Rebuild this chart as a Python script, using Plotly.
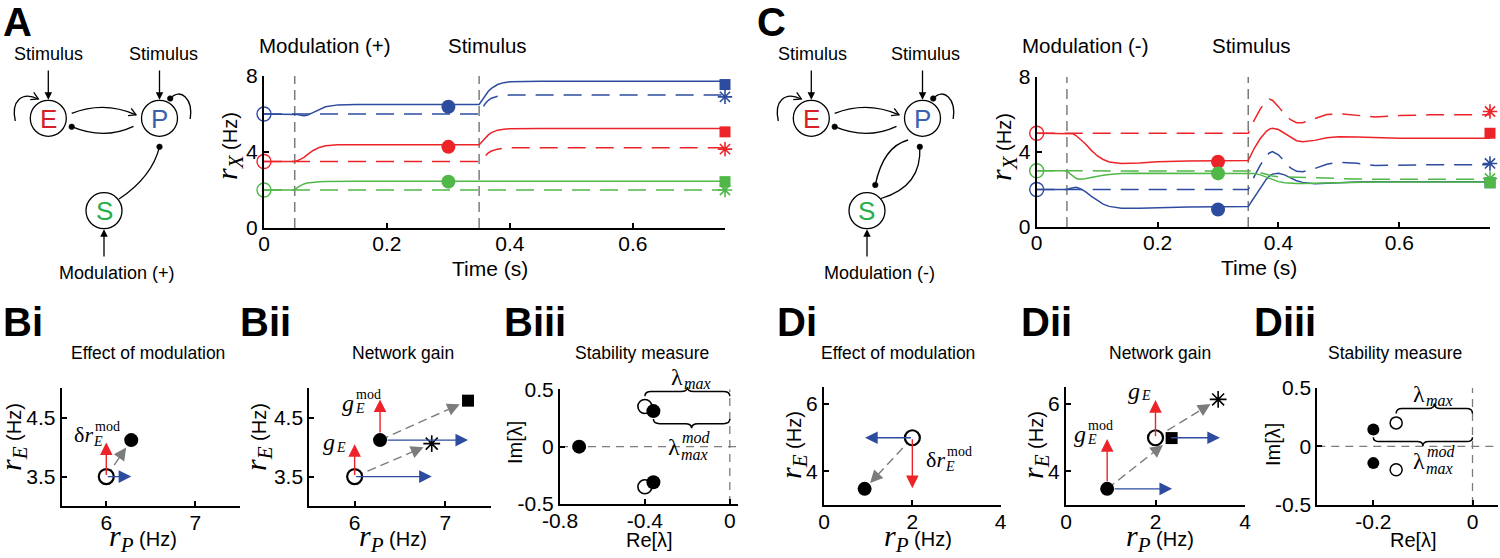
import math
import plotly.graph_objects as go

W, H = 1500, 558

RED = '#EC2429'
BLUE = '#2E4C9F'
GREEN = '#50B748'
GRAY = '#7C7C7C'
E_COL = '#D62027'
P_COL = '#3B62AE'
S_COL = '#27AE4A'
SANS = 'Liberation Sans, Arial, Helvetica, sans-serif'
SERIF = 'Liberation Serif, Times New Roman, serif'

# ================= DATA =================
t_mod_on = 0.05
t_stim_on = 0.35
t_snap = 0.30
t_end = 0.75

# ---- panel A (modulation +) ----
t_A = [0.0, 0.05, 0.055, 0.06, 0.065, 0.07, 0.08, 0.09, 0.10, 0.12, 0.15, 0.35,
       0.355, 0.36, 0.365, 0.37, 0.38, 0.39, 0.40, 0.45, 0.75]
rE_mod_A = [3.5, 3.5, 3.55, 3.62, 3.72, 3.85, 4.08, 4.24, 4.33, 4.38, 4.38, 4.38,
            4.55, 4.75, 4.90, 5.02, 5.15, 5.20, 5.23, 5.24, 5.24]
rE_ctl_A = [3.5, 3.5, 3.5, 3.5, 3.5, 3.5, 3.5, 3.5, 3.5, 3.5, 3.5, 3.5,
            3.65, 3.82, 3.95, 4.05, 4.15, 4.20, 4.22, 4.22, 4.22]
rP_mod_A = [6.0, 6.0, 5.97, 5.93, 5.91, 5.93, 6.08, 6.25, 6.38, 6.48, 6.50, 6.50,
            6.75, 7.00, 7.20, 7.35, 7.55, 7.65, 7.70, 7.72, 7.72]
rP_ctl_A = [6.0, 6.0, 6.0, 6.0, 6.0, 6.0, 6.0, 6.0, 6.0, 6.0, 6.0, 6.0,
            6.30, 6.55, 6.72, 6.83, 6.93, 6.97, 7.00, 7.00, 7.00]
rS_mod_A = [2.0, 2.0, 2.15, 2.25, 2.32, 2.37, 2.42, 2.44, 2.45, 2.46, 2.46, 2.46,
            2.46, 2.46, 2.46, 2.46, 2.46, 2.46, 2.46, 2.46, 2.46]
rS_ctl_A = [2.0, 2.0, 2.0, 2.0, 2.0, 2.0, 2.0, 2.0, 2.0, 2.0, 2.0, 2.0,
            2.0, 2.0, 2.0, 2.0, 2.0, 2.0, 2.0, 2.0, 2.0]
# markers, order E, P, S
open_A = [3.5, 6.0, 2.0]
fill_A = [4.27, 6.38, 2.44]
square_A = [5.06, 7.55, 2.44]
star_A = [4.15, 6.90, 2.00]

# ---- panel C (modulation -) ----
t_C = [0.0, 0.05, 0.055, 0.06, 0.065, 0.07, 0.08, 0.09, 0.10, 0.11, 0.12, 0.14, 0.17,
       0.20, 0.25, 0.35, 0.355, 0.36, 0.37, 0.38, 0.385, 0.39, 0.40, 0.41, 0.42, 0.43,
       0.44, 0.46, 0.48, 0.50, 0.53, 0.56, 0.60, 0.65, 0.75]
rE_mod_C = [5.0, 5.0, 5.0, 4.97, 4.88, 4.75, 4.45, 4.10, 3.80, 3.60, 3.47, 3.39, 3.41,
            3.48, 3.52, 3.55, 3.90, 4.20, 4.72, 5.10, 5.22, 5.27, 5.20, 5.00, 4.76, 4.60,
            4.55, 4.62, 4.76, 4.82, 4.80, 4.76, 4.73, 4.73, 4.73]
rE_ctl_C = [5.0, 5.0, 5.0, 5.0, 5.0, 5.0, 5.0, 5.0, 5.0, 5.0, 5.0, 5.0, 5.0,
            5.0, 5.0, 5.0, 5.35, 5.70, 6.30, 6.72, 6.82, 6.76, 6.42, 6.02, 5.72, 5.56,
            5.56, 5.80, 6.00, 6.04, 5.95, 5.87, 5.94, 5.98, 5.98]
rP_mod_C = [2.0, 2.0, 2.05, 2.10, 2.12, 2.07, 1.90, 1.65, 1.42, 1.22, 1.10, 1.00, 1.00,
            1.04, 1.07, 1.10, 1.35, 1.60, 2.10, 2.55, 2.72, 2.82, 2.86, 2.78, 2.62, 2.47,
            2.38, 2.31, 2.34, 2.38, 2.40, 2.41, 2.41, 2.41, 2.41]
rP_ctl_C = [2.0, 2.0, 2.0, 2.0, 2.0, 2.0, 2.0, 2.0, 2.0, 2.0, 2.0, 2.0, 2.0,
            2.0, 2.0, 2.0, 2.30, 2.70, 3.30, 3.80, 3.95, 4.02, 3.85, 3.50, 3.15, 2.97,
            2.95, 3.12, 3.35, 3.45, 3.40, 3.28, 3.30, 3.32, 3.32]
rS_mod_C = [3.0, 3.0, 2.85, 2.70, 2.60, 2.55, 2.57, 2.64, 2.71, 2.76, 2.80, 2.85, 2.87,
            2.87, 2.87, 2.87, 2.86, 2.85, 2.78, 2.65, 2.58, 2.52, 2.42, 2.36, 2.33, 2.32,
            2.32, 2.34, 2.36, 2.38, 2.39, 2.40, 2.40, 2.40, 2.40]
rS_ctl_C = [3.0, 3.0, 3.0, 3.0, 3.0, 3.0, 3.0, 3.0, 3.0, 3.0, 3.0, 3.0, 3.0,
            3.0, 3.0, 3.0, 3.00, 2.98, 2.90, 2.80, 2.76, 2.72, 2.68, 2.67, 2.67, 2.67,
            2.66, 2.63, 2.60, 2.57, 2.56, 2.55, 2.55, 2.55, 2.55]
open_C = [5.0, 2.0, 3.0]
fill_C = [3.48, 0.93, 2.86]
square_C = [5.0, 2.36, 2.36]
star_C = [6.16, 3.39, 2.59]

# ---- panels B (rP, rE) ----
rest_B = [6.0, 3.5]
mod_B = [6.28, 4.12]
dmod_B = [0.28, 0.58]          # Bi: blue (rP) and red (rE) arrows
gain_B = [0.85, 0.55]          # Bii: from rest
gain_mod_B = [0.97, 0.69]      # Bii: from modulated state
star_B = [6.85, 4.06]
square_B = [7.25, 4.79]
eig_ctl_B_re = [-0.40, -0.40]
eig_ctl_B_im = [0.35, -0.35]
eig_mod_B_re = [-0.71, -0.36, -0.36]
eig_mod_B_im = [0.0, 0.31, -0.31]

# ---- panels D ----
rest_D = [2.0, 5.0]
mod_D = [0.92, 3.48]
dmod_D = [-1.07, -1.5]
gain_D = [1.44, 1.12]
gain_mod_D = [1.45, 1.48]
star_D = [3.40, 6.14]
square_D = [2.36, 4.99]
eig_ctl_D_re = [-0.154, -0.154]
eig_ctl_D_im = [0.20, -0.20]
eig_mod_D_re = [-0.20, -0.20]
eig_mod_D_im = [0.143, -0.143]

# ================= LAYOUT GEOMETRY (pixels) =================
AX = {
    'A':    dict(n='',  px=(264.0, 725.0),   py=(228.0, 76.0),  xr=(0, 0.75),      yr=(0, 8),
                 xt=[0, 0.2, 0.4, 0.6], xtt=['0', '0.2', '0.4', '0.6'], yt=[0, 4, 8], ytt=['0', '4', '8']),
    'C':    dict(n='2', px=(1036.7, 1490.0), py=(227.0, 77.0),  xr=(0, 0.75),      yr=(0, 8),
                 xt=[0, 0.2, 0.4, 0.6], xtt=['0', '0.2', '0.4', '0.6'], yt=[0, 4, 8], ytt=['0', '4', '8']),
    'Bi':   dict(n='3', px=(61.7, 240.0),    py=(506.0, 388.3), xr=(5.5, 7.5),     yr=(3, 5),
                 xt=[6, 7], xtt=['6', '7'], yt=[3.5, 4.5], ytt=['3.5', '4.5']),
    'Bii':  dict(n='4', px=(309.3, 490.7),   py=(506.0, 388.3), xr=(5.5, 7.5),     yr=(3, 5),
                 xt=[6, 7], xtt=['6', '7'], yt=[3.5, 4.5], ytt=['3.5', '4.5']),
    'Biii': dict(n='5', px=(560.0, 738.3),   py=(504.0, 389.3), xr=(-0.8, 0.04),   yr=(-0.5, 0.5),
                 xt=[-0.8, -0.4, 0], xtt=['-0.8', '-0.4', '0'], yt=[-0.5, 0, 0.5], ytt=['-0.5', '0', '0.5']),
    'Di':   dict(n='6', px=(824.0, 1000.7),  py=(505.0, 387.3), xr=(0, 4),         yr=(3, 6.5),
                 xt=[0, 2, 4], xtt=['0', '2', '4'], yt=[4, 6], ytt=['4', '6']),
    'Dii':  dict(n='7', px=(1066.0, 1245.0), py=(505.0, 387.3), xr=(0, 4),         yr=(3, 6.5),
                 xt=[0, 2, 4], xtt=['0', '2', '4'], yt=[4, 6], ytt=['4', '6']),
    'Diii': dict(n='8', px=(1317.3, 1498.3), py=(505.0, 387.7), xr=(-0.313, 0.052), yr=(-0.5, 0.5),
                 xt=[-0.2, 0], xtt=['-0.2', '0'], yt=[-0.5, 0, 0.5], ytt=['-0.5', '0', '0.5']),
}

fig = go.Figure()
ann = []
shapes = []


def ref(k):
    n = AX[k]['n']
    return 'x' + n, 'y' + n


def d2p(k, x, y):
    a = AX[k]
    X = a['px'][0] + (x - a['xr'][0]) / (a['xr'][1] - a['xr'][0]) * (a['px'][1] - a['px'][0])
    Y = a['py'][0] - (y - a['yr'][0]) / (a['yr'][1] - a['yr'][0]) * (a['py'][0] - a['py'][1])
    return X, Y


def p2d(k, X, Y):
    a = AX[k]
    x = a['xr'][0] + (X - a['px'][0]) / (a['px'][1] - a['px'][0]) * (a['xr'][1] - a['xr'][0])
    y = a['yr'][0] + (a['py'][0] - Y) / (a['py'][0] - a['py'][1]) * (a['yr'][1] - a['yr'][0])
    return x, y


def add(k, **kw):
    xr, yr = ref(k)
    fig.add_trace(go.Scatter(xaxis=xr, yaxis=yr, showlegend=False, hoverinfo='skip', **kw))


for k, a in AX.items():
    n = a['n']
    common = dict(showline=True, linecolor='black', linewidth=2, ticks='inside', ticklen=5,
                  tickwidth=2, tickcolor='black', showgrid=False, zeroline=False, fixedrange=True,
                  automargin=False, tickfont=dict(family=SANS, size=21, color='black'))
    xextra = dict(ticklabelstandoff=-4) if k in ('A', 'C') else dict(ticklabelstandoff=-3)
    fig.update_layout({
        'xaxis' + n: dict(common, domain=[a['px'][0] / W, a['px'][1] / W], range=list(a['xr']),
                          anchor='y' + n, tickmode='array', tickvals=a['xt'], ticktext=a['xtt'], **xextra),
        'yaxis' + n: dict(common, domain=[1 - a['py'][0] / H, 1 - a['py'][1] / H], range=list(a['yr']),
                          anchor='x' + n, tickmode='array', tickvals=a['yt'], ticktext=a['ytt']),
    })


# ---------- helpers for text / arrows ----------
def label(X, Y, text, size=18, family=SANS, color='black', angle=0, xanchor='center', yanchor='middle'):
    ann.append(dict(xref='paper', yref='paper', x=X / W, y=1 - Y / H, text=text, showarrow=False,
                    font=dict(family=family, size=size, color=color), textangle=angle,
                    xanchor=xanchor, yanchor=yanchor))


def mlabel(k, x, y, base, sub=None, sup=None, bsize=22, ssize=14, sup_dy=8, sub_dy=-7, sub_dx=-3, sup_dx=-2):
    X, Y = d2p(k, x, y)
    c = dict(xref='paper', yref='paper', x=X / W, y=1 - Y / H, showarrow=False, yanchor='middle')
    ann.append(dict(c, text=base, xanchor='right', font=dict(family=SERIF, size=bsize, color='black')))
    if sup:
        ann.append(dict(c, text=sup, xanchor='left', yshift=sup_dy, xshift=sup_dx,
                        font=dict(family=SERIF, size=ssize, color='black')))
    if sub:
        ann.append(dict(c, text=sub, xanchor='left', yshift=sub_dy, xshift=sub_dx,
                        font=dict(family=SERIF, size=ssize, color='black')))


def arrow(k, x0, y0, x1, y1, col, w=1.4, s=1.8, sso=0):
    xr, yr = ref(k)
    ann.append(dict(xref=xr, yref=yr, axref=xr, ayref=yr, x=x1, y=y1, ax=x0, ay=y0, text='',
                    showarrow=True, arrowhead=2, arrowsize=s, arrowwidth=w, arrowcolor=col,
                    startstandoff=sso, standoff=0))


def dashed_arrow(k, x0, y0, x1, y1, gap=9.0, start_gap=0.0):
    X0, Y0 = d2p(k, x0, y0)
    X1, Y1 = d2p(k, x1, y1)
    L = math.hypot(X1 - X0, Y1 - Y0)
    ux, uy = (X1 - X0) / L, (Y1 - Y0) / L
    TX, TY = X1 - gap * ux, Y1 - gap * uy
    BX, BY = TX - 11 * ux, TY - 11 * uy
    SX, SY = X0 + start_gap * ux, Y0 + start_gap * uy
    tx, ty = p2d(k, TX, TY)
    bx, by = p2d(k, BX, BY)
    sx, sy = p2d(k, SX, SY)
    add(k, x=[sx, bx], y=[sy, by], mode='lines', line=dict(color=GRAY, width=1.4, dash='9px,5px'))
    arrow(k, bx, by, tx, ty, GRAY)


def pp(X, Y):
    return f"{X / W:.6f},{1 - Y / H:.6f}"


def brace(k, x1, x2, y0, h, q):
    xm = (x1 + x2) / 2
    ym = y0 + h / 2
    yt = y0 + h
    P = lambda x, y: pp(*d2p(k, x, y))
    d = (f"M {P(x1, y0)} Q {P(x1, ym)} {P(x1 + q, ym)} L {P(xm - q, ym)} Q {P(xm, ym)} {P(xm, yt)} "
         f"Q {P(xm, ym)} {P(xm + q, ym)} L {P(x2 - q, ym)} Q {P(x2, ym)} {P(x2, y0)}")
    shapes.append(dict(type='path', xref='paper', yref='paper', path=d, line=dict(color='black', width=1.5)))


def pshape(d, width=1.3):
    shapes.append(dict(type='path', xref='paper', yref='paper', path=d,
                       line=dict(color='black', width=width)))


def pcircle(cx, cy, r, fill='rgba(0,0,0,0)', width=1.3):
    shapes.append(dict(type='circle', xref='paper', yref='paper', x0=(cx - r) / W, x1=(cx + r) / W,
                       y0=1 - (cy + r) / H, y1=1 - (cy - r) / H,
                       line=dict(color='black', width=width), fillcolor=fill))


def chevron(tip, frm, L=7.0, w=4.0):
    dx, dy = tip[0] - frm[0], tip[1] - frm[1]
    n = math.hypot(dx, dy)
    ux, uy = dx / n, dy / n
    bx, by = tip[0] - L * ux, tip[1] - L * uy
    a1 = (bx - w * uy, by + w * ux)
    a2 = (bx + w * uy, by - w * ux)
    pshape(f"M {pp(*a1)} L {pp(*tip)} L {pp(*a2)}")


def parrow(X0, Y0, X1, Y1, w=1.3, s=1.15):
    ann.append(dict(xref='paper', yref='paper', x=X1 / W, y=1 - Y1 / H, ax=X0 - X1, ay=Y0 - Y1,
                    axref='pixel', ayref='pixel', text='', showarrow=True, arrowhead=2,
                    arrowsize=s, arrowwidth=w, arrowcolor='black'))


# ================= TIME SERIES =================
def timeseries(k, t, series, marks):
    ymax = AX[k]['yr'][1]
    for te in (t_mod_on, t_stim_on):
        add(k, x=[te, te], y=[0, ymax], mode='lines', line=dict(color=GRAY, width=1.5, dash='10px,6px'))
    cols = [RED, BLUE, GREEN]
    for (mod, ctl), col in zip(series, cols):
        add(k, x=t, y=ctl, mode='lines', line=dict(color=col, width=1.5, dash='18px,10px'))
        add(k, x=t, y=mod, mode='lines', line=dict(color=col, width=1.5))
    op, fi, sq, st = marks
    for i, col in enumerate(cols):
        add(k, x=[0.0], y=[op[i]], mode='markers', cliponaxis=False,
            marker=dict(symbol='circle-open', size=14, color=col, line=dict(width=1.4, color=col)))
        add(k, x=[t_snap], y=[fi[i]], mode='markers', cliponaxis=False,
            marker=dict(symbol='circle', size=14, color=col, line=dict(width=0)))
        add(k, x=[t_end], y=[st[i]], mode='markers', cliponaxis=False,
            marker=dict(symbol='asterisk-open', size=12, color=col, line=dict(width=1.6, color=col)))
        add(k, x=[t_end], y=[sq[i]], mode='markers', cliponaxis=False,
            marker=dict(symbol='square', size=11, color=col, line=dict(width=0)))


timeseries('A', t_A, [(rE_mod_A, rE_ctl_A), (rP_mod_A, rP_ctl_A), (rS_mod_A, rS_ctl_A)],
           (open_A, fill_A, square_A, star_A))
timeseries('C', t_C, [(rE_mod_C, rE_ctl_C), (rP_mod_C, rP_ctl_C), (rS_mod_C, rS_ctl_C)],
           (open_C, fill_C, square_C, star_C))

rx_lbl = (f"<span style='font-family:Liberation Serif;font-size:30px'><i>r</i>"
          f"<sub><i>X</i></sub></span> (Hz)")
label(229, 146, rx_lbl, size=20, angle=-90)
label(1003, 147, rx_lbl, size=20, angle=-90)
label(490, 268, 'Time (s)', size=21)
label(1259, 267, 'Time (s)', size=21)
label(325.3, 45.5, 'Modulation (+)', size=20.5)
label(487, 45.5, 'Stimulus', size=20.5)
label(1084.7, 45.5, 'Modulation (-)', size=20.5)
label(1251.7, 45.5, 'Stimulus', size=20.5)


# ================= DIAGRAMS =================
def diagram(dx, sign):
    E = (48.3 + dx, 118.3)
    P = (159.5 + dx, 118.3)
    S = (104.0 + dx, 210.7)
    R = 18.0
    for c, lab, col in [(E, 'E', E_COL), (P, 'P', P_COL), (S, 'S', S_COL)]:
        pcircle(c[0], c[1], R, fill='white')
        label(c[0], c[1] + 0.5, lab, size=26, color=col)
    label(E[0] + 0.7, 54, 'Stimulus', size=18)
    label(P[0] + 3.5, 54, 'Stimulus', size=18)
    parrow(E[0], 69, E[0], E[1] - R - 0.5)
    parrow(P[0], 69, P[0], P[1] - R - 0.5)
    parrow(S[0], 258, S[0], S[1] + R + 0.5)
    label(S[0] + 12.7, 273.3, 'Modulation (+)' if sign > 0 else 'Modulation (-)', size=18)
    # E -> P (excitatory)
    a0 = (E[0] + 23.4, 113.3)
    ctl = (104.0 + dx, 100.6)
    a1 = (P[0] - 23.5, 114.8)
    pshape(f"M {pp(*a0)} Q {pp(*ctl)} {pp(*a1)}")
    chevron(a1, ctl)
    # P -> E (inhibitory)
    b0 = (P[0] - 26.0, 126.3)
    bc = (104.0 + dx, 140.3)
    b1 = (E[0] + 23.4, 126.7)
    pshape(f"M {pp(*b0)} Q {pp(*bc)} {pp(*b1)}")
    pcircle(b1[0], b1[1], 2.8, fill='black', width=0.5)
    # E self loop (excitatory)
    e0 = (E[0] - 33.0, 121.0)
    ec1 = (E[0] - 37.5, 101.0)
    ec2 = (E[0] - 26.5, 91.0)
    e1 = (E[0] - 10.0, 99.0)
    pshape(f"M {pp(*e0)} C {pp(*ec1)} {pp(*ec2)} {pp(*e1)}")
    chevron(e1, ec2)
    # P self loop (inhibitory)
    f0 = (P[0] + 10.7, 98.5)
    pshape(f"M {pp(*f0)} C {pp(P[0] + 21, 87.0)} {pp(P[0] + 34, 99.0)} {pp(P[0] + 30.7, 119.0)}")
    pcircle(f0[0], f0[1], 2.8, fill='black', width=0.5)
    if sign > 0:
        s0 = (S[0] + 15.0, 199.0)
        s1 = (P[0], 146.8)
        pshape(f"M {pp(*s0)} Q {pp(S[0] + 48.0, 177.0)} {pp(*s1)}")
        pcircle(s1[0], s1[1], 2.8, fill='black', width=0.5)
    else:
        s0 = (S[0] + 14.0, 198.5)
        s1 = (P[0] - 2.7, 146.8)
        pshape(f"M {pp(*s0)} Q {pp(S[0] + 55.0, 186.7)} {pp(*s1)}")
        pcircle(s1[0], s1[1], 2.8, fill='black', width=0.5)
        q0 = (P[0] - 14.4, 140.0)
        q1 = (S[0] + 8.3, 185.0)
        pshape(f"M {pp(*q0)} Q {pp(P[0] - 39.4, 146.7)} {pp(*q1)}")
        pcircle(q1[0], q1[1], 2.8, fill='black', width=0.5)


diagram(0.0, +1)
diagram(763.0, -1)

# panel letters
for X, Y, t in [(17, 22, 'A'), (771, 22, 'C'), (22.5, 322, 'Bi'), (265.5, 322, 'Bii'),
                (535, 322, 'Biii'), (797.5, 322, 'Di'), (1046, 322, 'Dii'), (1285, 322, 'Diii')]:
    label(X, Y, f'<b>{t}</b>', size=40)

# bottom titles & axis labels
for X, t in [(148, 'Effect of modulation'), (403, 'Network gain'), (642, 'Stability measure'),
             (898, 'Effect of modulation'), (1160, 'Network gain'), (1395, 'Stability measure')]:
    label(X, 353, t, size=17.5)

rp_lbl = (f"<span style='font-family:Liberation Serif;font-size:30px'><i>r</i>"
          f"<sub><i>P</i></sub></span> (Hz)")
re_lbl = (f"<span style='font-family:Liberation Serif;font-size:30px'><i>r</i>"
          f"<sub><i>E</i></sub></span> (Hz)")
for X in (143, 393, 918, 1160):
    label(X, 538, rp_lbl, size=20)
for X, Y in ((13, 437), (258, 437), (793, 445), (1035, 445)):
    label(X, Y, re_lbl, size=20, angle=-90)
label(515, 443, 'Im[λ]', size=20, angle=-90)
label(1273, 445, 'Im[λ]', size=20, angle=-90)
label(649, 540, 'Re[λ]', size=20)
label(1413, 540, 'Re[λ]', size=20)

BLK = 'black'


def open_pt(k, xs, ys, size=15, lw=2.2):
    add(k, x=xs, y=ys, mode='markers', cliponaxis=False,
        marker=dict(symbol='circle', size=size, color='white', line=dict(width=lw, color=BLK)))


def fill_pt(k, xs, ys, size=14):
    add(k, x=xs, y=ys, mode='markers', cliponaxis=False,
        marker=dict(symbol='circle', size=size, color=BLK, line=dict(width=0)))


# ---------- Bi ----------
dashed_arrow('Bi', rest_B[0], rest_B[1], mod_B[0], mod_B[1])
open_pt('Bi', [rest_B[0]], [rest_B[1]])
fill_pt('Bi', [mod_B[0]], [mod_B[1]])
arrow('Bi', rest_B[0], rest_B[1], rest_B[0], rest_B[1] + dmod_B[1], RED)
arrow('Bi', rest_B[0], rest_B[1], rest_B[0] + dmod_B[0], rest_B[1], BLUE)
mlabel('Bi', 5.87, 4.21, 'δ<i>r</i>', sub='<i>E</i>', sup='mod', sub_dx=-4)

# ---------- Bii ----------
dashed_arrow('Bii', rest_B[0], rest_B[1], star_B[0], star_B[1])
dashed_arrow('Bii', mod_B[0], mod_B[1], square_B[0], square_B[1])
open_pt('Bii', [rest_B[0]], [rest_B[1]])
fill_pt('Bii', [mod_B[0]], [mod_B[1]])
add('Bii', x=[square_B[0]], y=[square_B[1]], mode='markers', cliponaxis=False,
    marker=dict(symbol='square', size=12, color=BLK))
add('Bii', x=[star_B[0]], y=[star_B[1]], mode='markers', cliponaxis=False,
    marker=dict(symbol='asterisk-open', size=14, color=BLK, line=dict(width=1.6, color=BLK)))
arrow('Bii', rest_B[0], rest_B[1], rest_B[0], rest_B[1] + gain_B[1], RED)
arrow('Bii', rest_B[0], rest_B[1], rest_B[0] + gain_B[0], rest_B[1], BLUE)
arrow('Bii', mod_B[0], mod_B[1], mod_B[0], mod_B[1] + gain_mod_B[1], RED, sso=6)
arrow('Bii', mod_B[0], mod_B[1], mod_B[0] + gain_mod_B[0], mod_B[1], BLUE, sso=6)
mlabel('Bii', 5.80, 4.08, '<i>g</i>', sub='<i>E</i>', sub_dy=-5, bsize=24)
mlabel('Bii', 6.01, 4.75, '<i>g</i>', sub='<i>E</i>', sup='mod', sub_dy=-5, sup_dy=9, bsize=24)

# ---------- Biii ----------
add('Biii', x=[AX['Biii']['xr'][0], AX['Biii']['xr'][1]], y=[0, 0], mode='lines',
    line=dict(color=GRAY, width=1.3, dash='8px,6px'))
add('Biii', x=[0, 0], y=[-0.5, 0.5], mode='lines', line=dict(color=GRAY, width=1.3, dash='8px,6px'))
open_pt('Biii', eig_ctl_B_re, eig_ctl_B_im, size=14, lw=1.6)
fill_pt('Biii', eig_mod_B_re, eig_mod_B_im, size=14)
brace('Biii', eig_ctl_B_re[0], 0.0, 0.44, 0.08, 0.03)
brace('Biii', eig_mod_B_re[1], 0.0, 0.24, -0.08, 0.03)
mlabel('Biii', -0.211, 0.606, 'λ', sub='<i>max</i>', bsize=24, ssize=16, sub_dy=-6)
mlabel('Biii', -0.227, -0.003, 'λ', sub='<i>max</i>', sup='<i>mod</i>', bsize=24, ssize=16,
       sub_dy=-8, sup_dy=9)

# ---------- Di ----------
dashed_arrow('Di', rest_D[0], rest_D[1], mod_D[0], mod_D[1], gap=8)
open_pt('Di', [rest_D[0]], [rest_D[1]])
fill_pt('Di', [mod_D[0]], [mod_D[1]])
arrow('Di', rest_D[0], rest_D[1], rest_D[0], rest_D[1] + dmod_D[1], RED)
arrow('Di', rest_D[0], rest_D[1], rest_D[0] + dmod_D[0], rest_D[1], BLUE)
mlabel('Di', 2.78, 4.34, 'δ<i>r</i>', sub='<i>E</i>', sup='mod', sub_dx=-4)

# ---------- Dii ----------
dashed_arrow('Dii', mod_D[0], mod_D[1], square_D[0], square_D[1], gap=11)
dashed_arrow('Dii', rest_D[0], rest_D[1], star_D[0], star_D[1], gap=9)
open_pt('Dii', [rest_D[0]], [rest_D[1]])
fill_pt('Dii', [mod_D[0]], [mod_D[1]])
add('Dii', x=[square_D[0]], y=[square_D[1]], mode='markers', cliponaxis=False,
    marker=dict(symbol='square', size=12, color=BLK))
add('Dii', x=[star_D[0]], y=[star_D[1]], mode='markers', cliponaxis=False,
    marker=dict(symbol='asterisk-open', size=14, color=BLK, line=dict(width=1.6, color=BLK)))
arrow('Dii', rest_D[0], rest_D[1], rest_D[0], rest_D[1] + gain_D[1], RED)
arrow('Dii', rest_D[0], rest_D[1], rest_D[0] + gain_D[0], rest_D[1], BLUE, sso=14)
arrow('Dii', mod_D[0], mod_D[1], mod_D[0], mod_D[1] + gain_mod_D[1], RED, sso=6)
arrow('Dii', mod_D[0], mod_D[1], mod_D[0] + gain_mod_D[0], mod_D[1], BLUE, sso=6)
mlabel('Dii', 1.69, 6.39, '<i>g</i>', sub='<i>E</i>', sub_dy=-5, bsize=24)
mlabel('Dii', 0.50, 5.11, '<i>g</i>', sub='<i>E</i>', sup='mod', sub_dy=-5, sup_dy=9, bsize=24)

# ---------- Diii ----------
add('Diii', x=[AX['Diii']['xr'][0], AX['Diii']['xr'][1]], y=[0, 0], mode='lines',
    line=dict(color=GRAY, width=1.3, dash='8px,6px'))
add('Diii', x=[0, 0], y=[-0.5, 0.5], mode='lines', line=dict(color=GRAY, width=1.3, dash='8px,6px'))
open_pt('Diii', eig_ctl_D_re, eig_ctl_D_im, size=12, lw=1.5)
fill_pt('Diii', eig_mod_D_re, eig_mod_D_im, size=12)
brace('Diii', eig_ctl_D_re[0], 0.0, 0.28, 0.085, 0.012)
brace('Diii', eig_mod_D_re[0], 0.0, 0.078, -0.075, 0.012)
mlabel('Diii', -0.092, 0.446, 'λ', sub='<i>max</i>', bsize=24, ssize=16, sub_dy=-6)
mlabel('Diii', -0.091, -0.123, 'λ', sub='<i>max</i>', sup='<i>mod</i>', bsize=24, ssize=16,
       sub_dy=-8, sup_dy=9)

fig.update_layout(width=W, height=H, autosize=False,
                  margin=dict(l=0, r=0, t=0, b=0, pad=0, autoexpand=False),
                  paper_bgcolor='white', plot_bgcolor='rgba(0,0,0,0)', showlegend=False,
                  font=dict(family=SANS, color='black'), annotations=ann, shapes=shapes)

fig.write_html("out.html", config={'displayModeBar': False},
               post_script="document.body.style.margin='0';")
